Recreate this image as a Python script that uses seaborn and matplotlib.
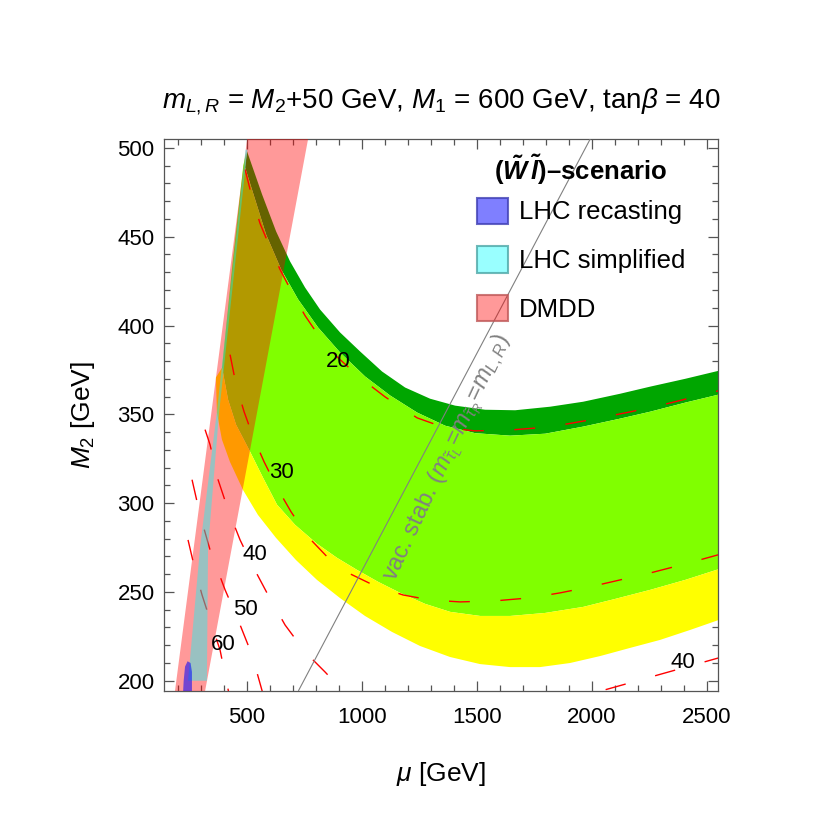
import numpy as np
import matplotlib
matplotlib.use("Agg")
import matplotlib.pyplot as plt
from matplotlib.patches import Patch
from matplotlib.ticker import MultipleLocator
import seaborn as sns

# ---- band boundaries (mu [GeV], M2 [GeV]) ----
# dark green band, upper edge
dg_top_mu = [501.6, 566.8, 627.7, 688.4, 753.6, 818.9, 905.8, 992.8, 1088.4, 1188.4, 1297.1,
             1405.8, 1536.2, 1666.7, 1818.8, 1962.3, 2123.2, 2253.7, 2405.9, 2560]
dg_top_m2 = [498.0, 473.8, 453.0, 436.1, 421.4, 409.0, 396.1, 385.4, 374.1, 365.1, 358.8,
             354.9, 352.6, 352.3, 354.3, 357.1, 361.6, 365.6, 370.0, 374.8]
# dark green / light green boundary
dg_bot_mu = [493.0, 536.5, 584.3, 649.6, 723.5, 810.4, 906.1, 1014.8, 1123.5, 1240.9, 1362.6,
             1493.0, 1645.2, 1797.4, 1962.6, 2123.5, 2253.9, 2406.1, 2560]
dg_bot_m2 = [489.0, 471.0, 451.3, 431.6, 414.7, 398.9, 384.8, 371.3, 360.6, 351.0, 343.6,
             339.4, 338.0, 339.1, 343.1, 347.6, 351.5, 356.6, 361.4]
# light green left edge (top -> bottom)
lg_left_mu = [497, 485, 440, 395]
lg_left_m2 = [497, 490, 437, 380]
# light green / yellow boundary
gy_mu = [392.9, 419.0, 453.7, 514.7, 571.1, 632.0, 710.3, 805.9, 892.9, 979.9, 1071.3, 1167.0,
         1275.6, 1384.3, 1514.8, 1645.2, 1797.4, 1962.6, 2101.7, 2253.9, 2406.1, 2560]
gy_m2 = [376.3, 358.3, 344.2, 329.0, 314.3, 299.1, 287.8, 277.1, 269.2, 262.4, 255.7, 249.5,
         243.3, 238.8, 236.5, 236.5, 238.2, 241.6, 246.1, 251.2, 256.8, 263.2]
# yellow lower edge
yl_mu = [366.1, 370.5, 392.3, 427.0, 483.6, 548.7, 627.0, 714.0, 805.3, 905.3, 1014.0, 1131.4,
         1253.1, 1383.5, 1514.0, 1644.4, 1774.9, 1905.3, 2035.7, 2166.2, 2296.6, 2427.0, 2560]
yl_m2 = [370.7, 351.0, 335.8, 323.3, 307.5, 293.4, 280.5, 268.0, 256.8, 246.6, 236.5, 227.5,
         219.6, 213.4, 209.4, 207.7, 207.7, 210.0, 213.9, 218.5, 223.0, 228.6, 234.6]

# DMDD strip, LHC simplified, LHC recasting
dmdd_mu = [184, 507, 774, 313]
dmdd_m2 = [190, 510, 510, 190]
simp_mu = [245, 327, 332, 380, 503, 495, 370, 298]
simp_m2 = [200, 200, 275, 351, 499, 499, 351, 276]
rec_mu = [222, 262, 262, 256, 243, 232, 226]
rec_m2 = [190, 190, 205, 210, 211, 208, 200]

# vacuum stability line
vac_mu = [725, 1993]
vac_m2 = [194.4, 505]

# contour lines
c20_mu = [492.9, 523.3, 558.1, 601.6, 645.1, 697.4, 753.9, 819.1, 897.4, 993.0, 1101.7, 1240.9,
          1362.6, 1493.0, 1645.2, 1819.1, 1993.0, 2166.9, 2340.8, 2560]
c20_m2 = [487.9, 472.1, 457.4, 443.9, 431.5, 418.5, 405.5, 393.1, 381.8, 370.6, 359.8, 348.0,
          342.4, 340.7, 341.2, 342.9, 346.9, 351.4, 356.4, 363.6]
c30_mu = [427.7, 453.7, 488.5, 527.7, 575.5, 632.0, 692.9, 762.5, 849.5, 949.5, 1058.2, 1180.0,
          1297.4, 1427.8, 1580.0, 1732.2, 1862.6, 1993.0, 2123.5, 2253.9, 2406.1, 2560]
c30_m2 = [383.6, 366.7, 351.5, 337.4, 323.3, 308.7, 295.1, 281.6, 269.8, 260.2, 253.4, 248.3,
          245.5, 244.4, 245.0, 246.7, 249.5, 252.9, 256.8, 260.7, 265.8, 271.3]
c40_mu = [319.0, 340.7, 375.5, 419.0, 471.2, 523.3, 592.9, 666.8, 753.9, 840.9, 935]
c40_m2 = [341.4, 332.9, 313.2, 296.3, 279.3, 265.3, 248.3, 231.4, 216.2, 204.9, 192]
c50_mu = [262.4, 297.2, 340.7, 406.0, 462.5, 523.3, 572]
c50_m2 = [313.2, 293.4, 273.7, 251.2, 234.3, 214.5, 192]
c60_mu = [245.0, 275.5, 305.9, 340.7, 384.2, 424]
c60_m2 = [279.3, 262.4, 248.3, 234.3, 217.3, 192]
c40b_mu = [2060, 2560]
c40b_m2 = [195, 213.2]

label_text = ["20", "30", "40", "50", "60", "40"]
label_mu = [897, 652, 537, 494, 398, 2397]
label_m2 = [379.7, 317.1, 270.9, 239.9, 220.2, 210.5]

sns.set_theme(style="ticks")
plt.rcParams['font.family'] = ['Liberation Sans', 'DejaVu Sans']
plt.rcParams['mathtext.fontset'] = 'custom'
plt.rcParams['mathtext.rm'] = 'Liberation Sans'
plt.rcParams['mathtext.it'] = 'Liberation Sans:italic'
plt.rcParams['mathtext.bf'] = 'Liberation Sans:bold:italic'
plt.rcParams['text.color'] = 'black'
plt.rcParams['axes.labelcolor'] = 'black'

fig = plt.figure(figsize=(8.3, 8.3), dpi=100)
ax = fig.add_axes([0.198, 0.1678, 0.6675, 0.6647])
ax.set_xlim(142, 2550)
ax.set_ylim(194.4, 505)

# bands
ax.fill(dg_top_mu + dg_bot_mu[::-1], dg_top_m2 + dg_bot_m2[::-1], color='#00a600', lw=0, zorder=1)
ax.fill(dg_bot_mu + gy_mu[::-1] + lg_left_mu[::-1][1:],
        dg_bot_m2 + gy_m2[::-1] + lg_left_m2[::-1][1:], color='#80ff00', lw=0, zorder=1)
ax.fill(yl_mu + gy_mu[::-1], yl_m2 + gy_m2[::-1], color='#ffff00', lw=0, zorder=1)

# contours
for cx, cy in [(c20_mu, c20_m2), (c30_mu, c30_m2), (c40_mu, c40_m2),
               (c50_mu, c50_m2), (c60_mu, c60_m2), (c40b_mu, c40b_m2)]:
    sns.lineplot(x=cx, y=cy, sort=False, estimator=None, ax=ax, color='red',
                 lw=1.0, linestyle=(0, (15, 22)), zorder=2)
for t, lx, ly in zip(label_text, label_mu, label_m2):
    ax.text(lx, ly, t, fontsize=16, ha='center', va='center', color='black', zorder=7)

# DMDD, LHC
ax.fill(dmdd_mu, dmdd_m2, color='red', alpha=0.4, lw=0, zorder=3)
ax.fill(simp_mu, simp_m2, color='cyan', alpha=0.4, lw=0, zorder=4)
ax.fill(rec_mu, rec_m2, color='blue', alpha=0.55, lw=0, zorder=5)

# vac. stab. line
sns.lineplot(x=vac_mu, y=vac_m2, sort=False, estimator=None, ax=ax, color='gray', lw=0.8, zorder=6)
ax.text(1371, 325.6, r"vac. stab. ($m_{\tilde{\tau}_L}$=$m_{\tilde{\tau}_R}$=$m_{L,R}$)",
        rotation=65, rotation_mode='anchor', ha='center', va='center',
        color='gray', fontsize=17, zorder=6)

# axes styling
ax.xaxis.set_major_locator(MultipleLocator(500))
ax.xaxis.set_minor_locator(MultipleLocator(100))
ax.yaxis.set_major_locator(MultipleLocator(50))
ax.yaxis.set_minor_locator(MultipleLocator(10))
ax.tick_params(which='both', direction='in', top=True, right=True, color='#555555',
               width=0.9, labelcolor='black')
ax.tick_params(which='major', length=7, labelsize=16)
ax.tick_params(which='minor', length=4)
ax.tick_params(axis='x', pad=12)
ax.tick_params(axis='y', pad=7)
for s in ax.spines.values():
    s.set_color('#555555')
    s.set_linewidth(0.9)

ax.set_xlabel(r"$\mu$ [GeV]", fontsize=19)
ax.set_ylabel(r"$M_2$ [GeV]", fontsize=19)
ax.xaxis.set_label_coords(0.5, -0.125)
ax.yaxis.set_label_coords(-0.122, 0.5)
ax.set_title(r"$m_{L,R}$ = $M_2$+50 GeV, $M_1$ = 600 GeV, tan$\beta$ = 40", fontsize=20, pad=22)

# legend
ax.text(0.752, 0.944, r"($\mathbf{\tilde{W}\,\tilde{l}}$)–scenario", transform=ax.transAxes,
        fontsize=18.5, fontweight='bold', ha='center', va='center', zorder=8)
handles = [
    Patch(facecolor=(0, 0, 1, 0.5), edgecolor=(0.25, 0.25, 0.7, 0.8), lw=1.5, label='LHC recasting'),
    Patch(facecolor=(0, 1, 1, 0.4), edgecolor=(0.3, 0.65, 0.65, 0.8), lw=1.5, label='LHC simplified'),
    Patch(facecolor=(1, 0, 0, 0.4), edgecolor=(0.75, 0.35, 0.35, 0.8), lw=1.5, label='DMDD'),
]
leg = ax.legend(handles=handles, loc='upper left', bbox_to_anchor=(0.564, 0.894), frameon=False,
                fontsize=18.5, handlelength=1.2, handleheight=1.2, handletextpad=0.45,
                labelspacing=0.85, borderpad=0, borderaxespad=0)
leg.set_zorder(8)

fig.savefig("out.png", dpi=100)
